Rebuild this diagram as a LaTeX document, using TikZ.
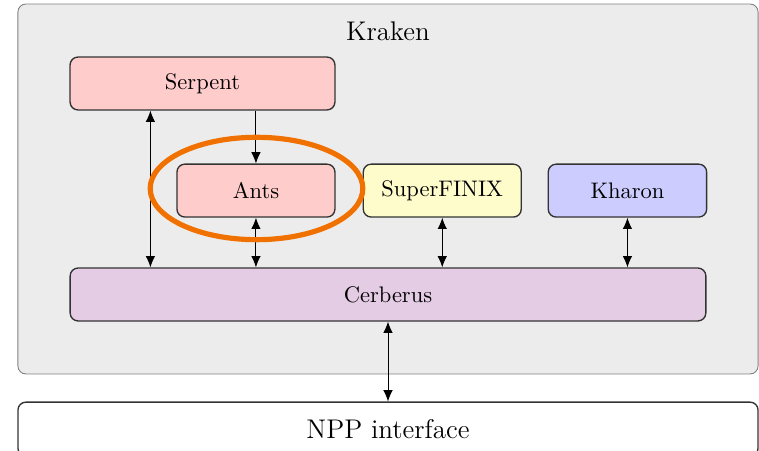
\documentclass[tikz,border=0pt]{standalone}
\usepackage{tikz}
\usetikzlibrary{positioning, arrows.meta, shapes.geometric}
\definecolor{markorange}{RGB}{240,112,0}
\tikzset{
>={Latex[length=5pt, width=4.2pt]}, % filled triangle heads
module/.style={draw=black!80, semithick, rounded corners=3.5pt, minimum height=23.5pt, inner sep=2pt}, % one box per part
link/.style={<->}, % two-way link
}

\begin{document}
\begin{tikzpicture}[x=0.4444pt, y=-0.4444pt]
    \useasboundingbox (0,0) rectangle (759,451);
    \node[draw=gray, fill=gray!15, rounded corners=3.5pt, minimum width=328.9pt, minimum height=164.4pt] (kraken) at (388,189) {};
    \node[font=\large] (title) at (388,31) {Kraken};
    \node[module, fill=red!20, minimum width=117.7pt] (serpent) at (202.5,83.5) {Serpent};
    \node[module, fill=red!20, minimum width=70.2pt, below=23.5pt of serpent.south east, anchor=north east] (ants) {Ants};
    \node[module, fill=yellow!20, minimum width=70.2pt, right=12pt of ants] (superfinix) {SuperFINIX};
    \node[module, fill=blue!20, minimum width=70.4pt, right=11.4pt of superfinix] (kharon) {Kharon};
    \node[module, fill=violet!20, minimum width=282.5pt] (cerberus) at (388,294.5) {Cerberus};
    \node[module, fill=white, font=\large, minimum width=328.9pt, minimum height=24pt, below=35.5pt of cerberus] (npp) {NPP interface};
    \draw[link] ([xshift=36pt]serpent.south west) -- ([xshift=36pt]serpent.south west |- cerberus.north);
    \draw[->] (serpent.south -| ants) -- (ants.north);
    \draw[link] (ants.south) -- (ants.south |- cerberus.north);
    \draw[link] (superfinix.south) -- (superfinix.south |- cerberus.north);
    \draw[link] (kharon.south) -- (kharon.south |- cerberus.north);
    \draw[link] (cerberus.south) -- (npp.north);
    \node[ellipse, draw=markorange, line width=2.3pt, minimum width=94.5pt, minimum height=45.5pt] (focus) at (256.5,188.5) {};
\end{tikzpicture}
\end{document}
